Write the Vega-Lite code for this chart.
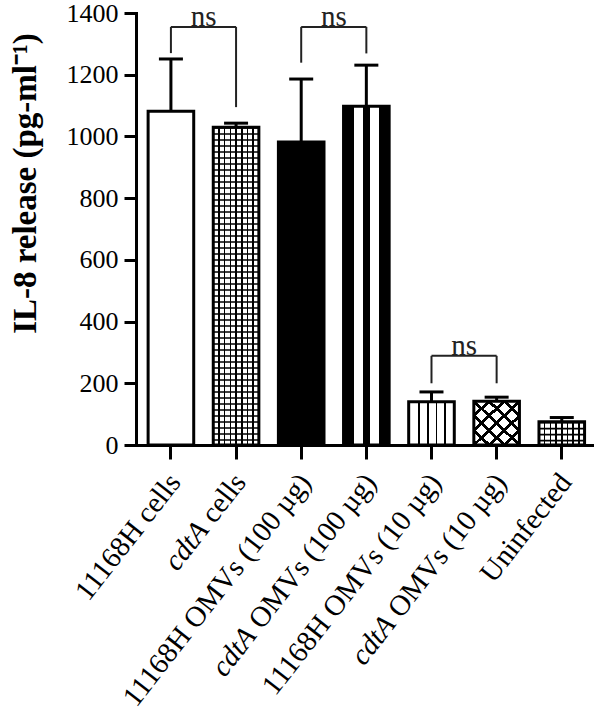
{
  "$schema": "https://vega.github.io/schema/vega-lite/v6.json",
  "width": 456,
  "height": 432,
  "autosize": {"type": "none"},
  "padding": {"left": 136, "top": 13, "right": 8, "bottom": 273},
  "background": "white",
  "config": {"view": {"stroke": null}, "font": "Liberation Serif", "text": {"font": "Liberation Serif", "color": "black"}},
  "datasets": {
    "bars": [
      {"g": "11168H cells", "rest": "11168H cells", "mean": 1082, "top": 1251},
      {"g": "cdtA cells", "rest": "cells", "mean": 1030, "top": 1043},
      {"g": "11168H OMVs (100 µg)", "rest": "11168H OMVs (100 µg)", "mean": 982, "top": 1186},
      {"g": "cdtA OMVs (100 µg)", "rest": "OMVs (100 µg)", "mean": 1098, "top": 1231},
      {"g": "11168H OMVs (10 µg)", "rest": "11168H OMVs (10 µg)", "mean": 140, "top": 172},
      {"g": "cdtA OMVs (10 µg)", "rest": "OMVs (10 µg)", "mean": 142, "top": 155},
      {"g": "Uninfected", "rest": "Uninfected", "mean": 75, "top": 89}
    ],
    "brackets": [
      {"from": "11168H cells", "to": "cdtA cells", "y": 1355},
      {"from": "11168H OMVs (100 µg)", "to": "cdtA OMVs (100 µg)", "y": 1355},
      {"from": "11168H OMVs (10 µg)", "to": "cdtA OMVs (10 µg)", "y": 289}
    ],
    "legs": [
      {"g": "11168H cells", "y": 1355, "y2": 1270},
      {"g": "cdtA cells", "y": 1355, "y2": 1095},
      {"g": "11168H OMVs (100 µg)", "y": 1355, "y2": 1239},
      {"g": "cdtA OMVs (100 µg)", "y": 1355, "y2": 1269},
      {"g": "11168H OMVs (10 µg)", "y": 289, "y2": 200},
      {"g": "cdtA OMVs (10 µg)", "y": 289, "y2": 200}
    ]
  },
  "layer": [
    {
      "data": {"name": "bars"},
      "mark": {"type": "bar", "fill": "white"},
      "encoding": {
        "x": {
          "field": "g", "type": "nominal", "sort": null,
          "scale": {"domain": ["11168H cells", "cdtA cells", "11168H OMVs (100 µg)", "cdtA OMVs (100 µg)", "11168H OMVs (10 µg)", "cdtA OMVs (10 µg)", "Uninfected"], "paddingInner": 0.3, "paddingOuter": 0.15, "align": 0.62},
          "axis": {"title": null, "labels": false, "domainColor": "black", "domainWidth": 3, "domainCap": "square", "tickColor": "black", "tickWidth": 3, "tickSize": 14}
        },
        "y": {
          "field": "mean", "type": "quantitative",
          "scale": {"domain": [0, 1400], "nice": false},
          "axis": {"title": "IL-8 release (pg-ml⁻¹)", "format": "d", "values": [0, 200, 400, 600, 800, 1000, 1200, 1400], "grid": false, "domainColor": "black", "domainWidth": 3, "domainCap": "square", "tickColor": "black", "tickWidth": 3, "tickSize": 12, "labelFont": "Liberation Serif", "labelFontSize": 26, "labelColor": "black", "labelPadding": 6, "titleFont": "Liberation Serif", "titleFontSize": 33, "titleFontWeight": "bold", "titleColor": "black", "titleX": -94, "titleY": 170, "titleAlign": "center", "titleBaseline": "bottom", "titleAngle": -90}
        }
      }
    },
    {
      "data": {"name": "bars"},
      "transform": [{"filter": "datum.g === '11168H OMVs (100 µg)'"}],
      "mark": {"type": "bar", "fill": "black"},
      "encoding": {"x": {"field": "g", "type": "nominal"}, "y": {"field": "mean", "type": "quantitative"}}
    },
    {
      "data": {"name": "bars"},
      "transform": [{"filter": "datum.g === 'cdtA OMVs (100 µg)'"}],
      "mark": {"type": "bar", "fill": {"gradient": "linear", "x1": 0, "y1": 0, "x2": 1, "y2": 0, "stops": [
        {"offset": 0, "color": "black"}, {"offset": 0.23, "color": "black"}, {"offset": 0.23, "color": "white"}, {"offset": 0.43, "color": "white"},
        {"offset": 0.43, "color": "black"}, {"offset": 0.57, "color": "black"}, {"offset": 0.57, "color": "white"}, {"offset": 0.77, "color": "white"},
        {"offset": 0.77, "color": "black"}, {"offset": 1, "color": "black"}]}},
      "encoding": {"x": {"field": "g", "type": "nominal"}, "y": {"field": "mean", "type": "quantitative"}}
    },
    {
      "data": {"name": "bars"},
      "transform": [{"filter": "datum.g === '11168H OMVs (10 µg)'"}],
      "mark": {"type": "bar", "fill": {"gradient": "linear", "x1": 0, "y1": 0, "x2": 1, "y2": 0, "stops": [
        {"offset": 0, "color": "white"}, {"offset": 0.21, "color": "white"}, {"offset": 0.21, "color": "black"}, {"offset": 0.25, "color": "black"},
        {"offset": 0.25, "color": "white"}, {"offset": 0.40, "color": "white"}, {"offset": 0.40, "color": "black"}, {"offset": 0.44, "color": "black"},
        {"offset": 0.44, "color": "white"}, {"offset": 0.59, "color": "white"}, {"offset": 0.59, "color": "black"}, {"offset": 0.63, "color": "black"},
        {"offset": 0.63, "color": "white"}, {"offset": 0.78, "color": "white"}, {"offset": 0.78, "color": "black"}, {"offset": 0.82, "color": "black"},
        {"offset": 0.82, "color": "white"}, {"offset": 1, "color": "white"}]}},
      "encoding": {"x": {"field": "g", "type": "nominal"}, "y": {"field": "mean", "type": "quantitative"}}
    },
    {
      "data": {"name": "bars"},
      "transform": [{"filter": "datum.g === 'cdtA cells' || datum.g === 'Uninfected'"}],
      "mark": {"type": "bar", "fill": {"gradient": "linear", "x1": 0, "y1": 0, "x2": 1, "y2": 0, "stops": [
        {"offset": 0, "color": "white"}, {"offset": 0.107, "color": "white"}, {"offset": 0.107, "color": "black"}, {"offset": 0.143, "color": "black"},
        {"offset": 0.143, "color": "white"}, {"offset": 0.232, "color": "white"}, {"offset": 0.232, "color": "black"}, {"offset": 0.268, "color": "black"},
        {"offset": 0.268, "color": "white"}, {"offset": 0.357, "color": "white"}, {"offset": 0.357, "color": "black"}, {"offset": 0.393, "color": "black"},
        {"offset": 0.393, "color": "white"}, {"offset": 0.482, "color": "white"}, {"offset": 0.482, "color": "black"}, {"offset": 0.518, "color": "black"},
        {"offset": 0.518, "color": "white"}, {"offset": 0.607, "color": "white"}, {"offset": 0.607, "color": "black"}, {"offset": 0.643, "color": "black"},
        {"offset": 0.643, "color": "white"}, {"offset": 0.732, "color": "white"}, {"offset": 0.732, "color": "black"}, {"offset": 0.768, "color": "black"},
        {"offset": 0.768, "color": "white"}, {"offset": 0.857, "color": "white"}, {"offset": 0.857, "color": "black"}, {"offset": 0.893, "color": "black"},
        {"offset": 0.893, "color": "white"}, {"offset": 1, "color": "white"}]}},
      "encoding": {"x": {"field": "g", "type": "nominal"}, "y": {"field": "mean", "type": "quantitative"}}
    },
    {
      "data": {"name": "bars"},
      "transform": [{"filter": "datum.g === 'cdtA cells' || datum.g === 'Uninfected'"}],
      "mark": {"type": "rule", "strokeWidth": 45, "strokeDash": [1.6, 4.4], "color": "black", "strokeCap": "butt"},
      "encoding": {"x": {"field": "g", "type": "nominal"}, "y": {"field": "mean", "type": "quantitative"}, "y2": {"datum": 0}}
    },
    {
      "data": {"name": "bars"},
      "transform": [{"filter": "datum.g === 'cdtA OMVs (10 µg)'"}],
      "mark": {"type": "bar", "fill": {"gradient": "linear", "x1": 0, "y1": 0, "x2": 1, "y2": 1, "stops": [
        {"offset": 0, "color": "white"}, {"offset": 0.145, "color": "white"}, {"offset": 0.145, "color": "black"}, {"offset": 0.19, "color": "black"},
        {"offset": 0.19, "color": "white"}, {"offset": 0.311, "color": "white"}, {"offset": 0.311, "color": "black"}, {"offset": 0.356, "color": "black"},
        {"offset": 0.356, "color": "white"}, {"offset": 0.478, "color": "white"}, {"offset": 0.478, "color": "black"}, {"offset": 0.522, "color": "black"},
        {"offset": 0.522, "color": "white"}, {"offset": 0.644, "color": "white"}, {"offset": 0.644, "color": "black"}, {"offset": 0.689, "color": "black"},
        {"offset": 0.689, "color": "white"}, {"offset": 0.81, "color": "white"}, {"offset": 0.81, "color": "black"}, {"offset": 0.855, "color": "black"},
        {"offset": 0.855, "color": "white"}, {"offset": 1, "color": "white"}]}},
      "encoding": {"x": {"field": "g", "type": "nominal"}, "y": {"field": "mean", "type": "quantitative"}}
    },
    {
      "data": {"name": "bars"},
      "transform": [{"filter": "datum.g === 'cdtA OMVs (10 µg)'"}],
      "mark": {"type": "bar", "fill": {"gradient": "linear", "x1": 1, "y1": 0, "x2": 0, "y2": 1, "stops": [
        {"offset": 0, "color": "transparent"}, {"offset": 0.145, "color": "transparent"}, {"offset": 0.145, "color": "black"}, {"offset": 0.19, "color": "black"},
        {"offset": 0.19, "color": "transparent"}, {"offset": 0.311, "color": "transparent"}, {"offset": 0.311, "color": "black"}, {"offset": 0.356, "color": "black"},
        {"offset": 0.356, "color": "transparent"}, {"offset": 0.478, "color": "transparent"}, {"offset": 0.478, "color": "black"}, {"offset": 0.522, "color": "black"},
        {"offset": 0.522, "color": "transparent"}, {"offset": 0.644, "color": "transparent"}, {"offset": 0.644, "color": "black"}, {"offset": 0.689, "color": "black"},
        {"offset": 0.689, "color": "transparent"}, {"offset": 0.81, "color": "transparent"}, {"offset": 0.81, "color": "black"}, {"offset": 0.855, "color": "black"},
        {"offset": 0.855, "color": "transparent"}, {"offset": 1, "color": "transparent"}]}},
      "encoding": {"x": {"field": "g", "type": "nominal"}, "y": {"field": "mean", "type": "quantitative"}}
    },
    {
      "data": {"name": "bars"},
      "mark": {"type": "bar", "fill": "white", "fillOpacity": 0, "stroke": "black", "strokeWidth": 3},
      "encoding": {"x": {"field": "g", "type": "nominal"}, "y": {"field": "mean", "type": "quantitative"}}
    },
    {
      "data": {"name": "bars"},
      "mark": {"type": "rule", "strokeWidth": 3, "color": "black"},
      "encoding": {"x": {"field": "g", "type": "nominal"}, "y": {"field": "mean", "type": "quantitative"}, "y2": {"field": "top"}}
    },
    {
      "data": {"name": "bars"},
      "mark": {"type": "tick", "size": 24, "thickness": 3, "color": "black", "opacity": 1},
      "encoding": {"x": {"field": "g", "type": "nominal"}, "y": {"field": "top", "type": "quantitative"}}
    },
    {
      "data": {"name": "brackets"},
      "mark": {"type": "rule", "strokeWidth": 2, "color": "#222"},
      "encoding": {"x": {"field": "from", "type": "nominal"}, "x2": {"field": "to"}, "y": {"field": "y", "type": "quantitative"}}
    },
    {
      "data": {"name": "legs"},
      "mark": {"type": "rule", "strokeWidth": 2, "color": "#222"},
      "encoding": {"x": {"field": "g", "type": "nominal"}, "y": {"field": "y", "type": "quantitative"}, "y2": {"field": "y2"}}
    },
    {
      "data": {"name": "brackets"},
      "mark": {"type": "text", "text": "ns", "fontSize": 29, "dx": 32.6, "dy": -1, "baseline": "alphabetic", "align": "center", "color": "#222"},
      "encoding": {"x": {"field": "from", "type": "nominal"}, "y": {"field": "y", "type": "quantitative"}}
    },
    {
      "data": {"name": "bars"},
      "mark": {"type": "text", "angle": -52, "align": "right", "baseline": "middle", "fontSize": 29, "dx": -23, "dy": 23},
      "encoding": {"x": {"field": "g", "type": "nominal"}, "y": {"datum": 0}, "text": {"field": "rest"}}
    },
    {
      "data": {"name": "bars"},
      "transform": [{"filter": "datum.g === 'cdtA cells'"}],
      "mark": {"type": "text", "text": "cdtA", "fontStyle": "italic", "angle": -52, "align": "right", "baseline": "middle", "fontSize": 29, "dx": -83.4, "dy": 23},
      "encoding": {"x": {"field": "g", "type": "nominal"}, "y": {"datum": 0}}
    },
    {
      "data": {"name": "bars"},
      "transform": [{"filter": "datum.g === 'cdtA OMVs (100 µg)'"}],
      "mark": {"type": "text", "text": "cdtA", "fontStyle": "italic", "angle": -52, "align": "right", "baseline": "middle", "fontSize": 29, "dx": -217.7, "dy": 23},
      "encoding": {"x": {"field": "g", "type": "nominal"}, "y": {"datum": 0}}
    },
    {
      "data": {"name": "bars"},
      "transform": [{"filter": "datum.g === 'cdtA OMVs (10 µg)'"}],
      "mark": {"type": "text", "text": "cdtA", "fontStyle": "italic", "angle": -52, "align": "right", "baseline": "middle", "fontSize": 29, "dx": -203.2, "dy": 23},
      "encoding": {"x": {"field": "g", "type": "nominal"}, "y": {"datum": 0}}
    }
  ]
}
